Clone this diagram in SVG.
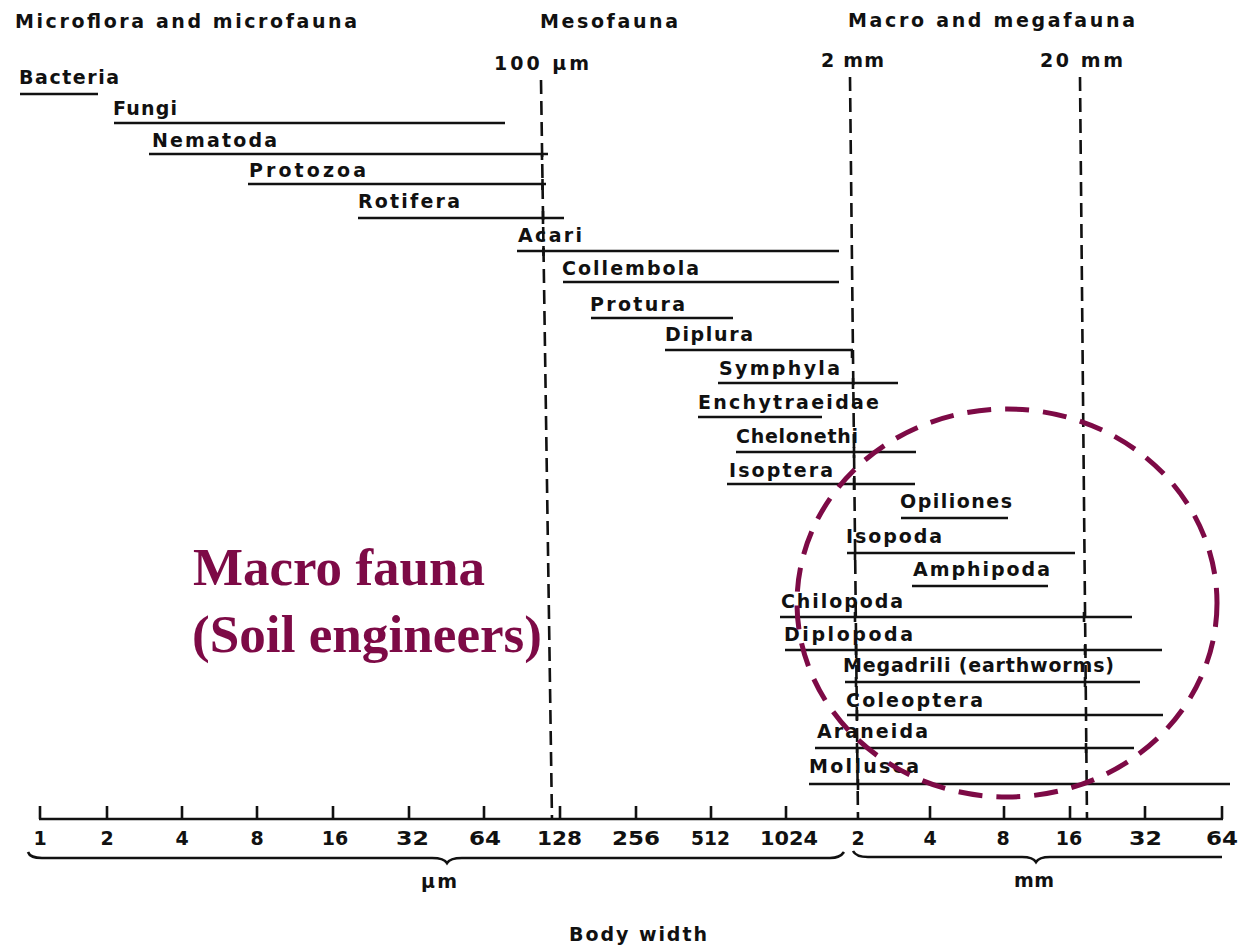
<svg xmlns="http://www.w3.org/2000/svg" width="1248" height="947" viewBox="0 0 1248 947">
<style>
.lbl{font-family:"DejaVu Sans","Liberation Sans",sans-serif;font-weight:bold;font-size:19px;fill:#111}
.hdr{font-family:"DejaVu Sans","Liberation Sans",sans-serif;font-weight:bold;font-size:19px;fill:#111}
.num{font-family:"DejaVu Sans","Liberation Sans",sans-serif;font-weight:bold;font-size:19px;fill:#111}
.bar{stroke:#111;stroke-width:2.6;fill:none;stroke-linecap:butt}
.tk{stroke:#111;stroke-width:2.6;fill:none}
.guide{stroke:#111;stroke-width:2.6;fill:none;stroke-dasharray:14 7}
.red{font-family:"Liberation Serif","Times New Roman",serif;font-weight:bold;font-size:52px;fill:#7D0A46}
.circ{stroke:#7D0A46;stroke-width:5;fill:none;stroke-dasharray:24 14}
</style>
<rect width="1248" height="947" fill="#ffffff"/>

<g id="headers">
<text class="hdr" x="15" y="28" textLength="342" lengthAdjust="spacing">Microflora and microfauna</text>
<text class="hdr" x="540" y="28" textLength="138" lengthAdjust="spacing">Mesofauna</text>
<text class="hdr" x="848" y="27" textLength="287" lengthAdjust="spacing">Macro and megafauna</text>
<text class="hdr" x="494" y="70" textLength="95" lengthAdjust="spacing">100 μm</text>
<text class="hdr" x="821" y="67" textLength="63" lengthAdjust="spacing">2 mm</text>
<text class="hdr" x="1040" y="67" textLength="83" lengthAdjust="spacing">20 mm</text>
</g>

<g id="connectors">
<line class="guide" x1="541" y1="80" x2="552" y2="820"/>
<line class="guide" x1="850" y1="77" x2="858" y2="820"/>
<line class="guide" x1="1080" y1="77" x2="1087" y2="820"/>
<path class="tk" d="M542 154 V160 M542.5 179 V190 M543 211 V224 M543.5 246 V256 M852 350 V358 M853 378 V389 M854 447 V458 M854 478 V490 M855 553 V560 M855 612 V622 M1084 612 V622 M856 645 V655 M1085 645 V655 M856 677 V687 M1085 677 V687 M857 710 V720 M857 743 V753 M1086 743 V753 M858 779 V790"/>
</g>

<g id="bacteria"><text class="lbl" x="19" y="84" textLength="100" lengthAdjust="spacing">Bacteria</text><line class="bar" x1="20" y1="94" x2="98" y2="94"/></g>
<g id="fungi"><text class="lbl" x="113" y="115" textLength="64" lengthAdjust="spacing">Fungi</text><line class="bar" x1="114" y1="123" x2="505" y2="123"/></g>
<g id="nematoda"><text class="lbl" x="152" y="147" textLength="125" lengthAdjust="spacing">Nematoda</text><line class="bar" x1="149" y1="154" x2="548" y2="154"/></g>
<g id="protozoa"><text class="lbl" x="249" y="177" textLength="117" lengthAdjust="spacing">Protozoa</text><line class="bar" x1="248" y1="184" x2="546" y2="184"/></g>
<g id="rotifera"><text class="lbl" x="358" y="208" textLength="102" lengthAdjust="spacing">Rotifera</text><line class="bar" x1="358" y1="218" x2="564" y2="218"/></g>
<g id="acari"><text class="lbl" x="518" y="242" textLength="64" lengthAdjust="spacing">Acari</text><line class="bar" x1="517" y1="251" x2="839" y2="251"/></g>
<g id="collembola"><text class="lbl" x="562" y="275" textLength="137" lengthAdjust="spacing">Collembola</text><line class="bar" x1="563" y1="282" x2="839" y2="282"/></g>
<g id="protura"><text class="lbl" x="590" y="311" textLength="95" lengthAdjust="spacing">Protura</text><line class="bar" x1="591" y1="318" x2="733" y2="318"/></g>
<g id="diplura"><text class="lbl" x="665" y="341" textLength="88" lengthAdjust="spacing">Diplura</text><line class="bar" x1="665" y1="350" x2="853" y2="350"/></g>
<g id="symphyla"><text class="lbl" x="719" y="375" textLength="121" lengthAdjust="spacing">Symphyla</text><line class="bar" x1="718" y1="383" x2="898" y2="383"/></g>
<g id="enchytraeidae"><text class="lbl" x="698" y="409" textLength="181" lengthAdjust="spacing">Enchytraeidae</text><line class="bar" x1="698" y1="417" x2="822" y2="417"/></g>
<g id="chelonethi"><text class="lbl" x="736" y="443" textLength="122" lengthAdjust="spacing">Chelonethi</text><line class="bar" x1="736" y1="452" x2="916" y2="452"/></g>
<g id="isoptera"><text class="lbl" x="729" y="477" textLength="104" lengthAdjust="spacing">Isoptera</text><line class="bar" x1="727" y1="484" x2="915" y2="484"/></g>
<g id="opiliones"><text class="lbl" x="900" y="508" textLength="112" lengthAdjust="spacing">Opiliones</text><line class="bar" x1="901" y1="518" x2="1008" y2="518"/></g>
<g id="isopoda"><text class="lbl" x="846" y="543" textLength="96" lengthAdjust="spacing">Isopoda</text><line class="bar" x1="847" y1="553" x2="1075" y2="553"/></g>
<g id="amphipoda"><text class="lbl" x="913" y="576" textLength="137" lengthAdjust="spacing">Amphipoda</text><line class="bar" x1="912" y1="586" x2="1048" y2="586"/></g>
<g id="chilopoda"><text class="lbl" x="781" y="608" textLength="122" lengthAdjust="spacing">Chilopoda</text><line class="bar" x1="780" y1="617" x2="1132" y2="617"/></g>
<g id="diplopoda"><text class="lbl" x="784" y="641" textLength="129" lengthAdjust="spacing">Diplopoda</text><line class="bar" x1="785" y1="650" x2="1162" y2="650"/></g>
<g id="megadrili"><text class="lbl" x="843" y="672" textLength="271" lengthAdjust="spacing">Megadrili (earthworms)</text><line class="bar" x1="845" y1="682" x2="1140" y2="682"/></g>
<g id="coleoptera"><text class="lbl" x="846" y="707" textLength="137" lengthAdjust="spacing">Coleoptera</text><line class="bar" x1="847" y1="715" x2="1163" y2="715"/></g>
<g id="araneida"><text class="lbl" x="817" y="738" textLength="111" lengthAdjust="spacing">Araneida</text><line class="bar" x1="815" y1="748" x2="1134" y2="748"/></g>
<g id="mollusca"><text class="lbl" x="809" y="773" textLength="110" lengthAdjust="spacing">Mollusca</text><line class="bar" x1="809" y1="784" x2="1230" y2="784"/></g>

<g id="axis">
<line class="bar" x1="39" y1="819" x2="1223" y2="819"/>
<path class="tk" d="M40 806 V819 M107 806 V819 M182 806 V819 M257 806 V819 M333 806 V819 M409 806 V819 M484 806 V819 M560 806 V819 M636 806 V819 M711 806 V819 M786 806 V819 M930 806 V819 M1004 806 V819 M1070 806 V819 M1145 806 V819 M1222 806 V819"/>
<text class="num" x="40" y="845" text-anchor="middle">1</text>
<text class="num" x="107" y="845" text-anchor="middle">2</text>
<text class="num" x="182" y="845" text-anchor="middle">4</text>
<text class="num" x="257" y="845" text-anchor="middle">8</text>
<text class="num" x="335" y="845" text-anchor="middle">16</text>
<text class="num" x="396" y="845" textLength="33" lengthAdjust="spacingAndGlyphs">32</text>
<text class="num" x="469" y="845" textLength="32" lengthAdjust="spacingAndGlyphs">64</text>
<text class="num" x="537" y="845" textLength="45" lengthAdjust="spacingAndGlyphs">128</text>
<text class="num" x="612" y="845" textLength="48" lengthAdjust="spacingAndGlyphs">256</text>
<text class="num" x="691" y="845" textLength="39" lengthAdjust="spacingAndGlyphs">512</text>
<text class="num" x="760" y="845" textLength="58" lengthAdjust="spacingAndGlyphs">1024</text>
<text class="num" x="858" y="845" text-anchor="middle">2</text>
<text class="num" x="930" y="845" text-anchor="middle">4</text>
<text class="num" x="1003" y="845" text-anchor="middle">8</text>
<text class="num" x="1069" y="845" text-anchor="middle">16</text>
<text class="num" x="1129" y="845" textLength="33" lengthAdjust="spacingAndGlyphs">32</text>
<text class="num" x="1206" y="845" textLength="32" lengthAdjust="spacingAndGlyphs">64</text>
<path class="bar" stroke-width="2.2" d="M28 852 Q30 858 42 858 L432 858 Q444 858 447 863 Q450 858 462 858 L830 858 Q840 858 844 852"/>
<path class="bar" stroke-width="2.2" d="M853 851 Q856 857 868 857 L1022 857 Q1033 857 1036 862 Q1039 857 1050 857 L1222 857"/>
<text class="hdr" x="421" y="888" textLength="36" lengthAdjust="spacing">μm</text>
<text class="hdr" x="1014" y="887" textLength="40" lengthAdjust="spacing">mm</text>
<text class="hdr" x="569" y="941" textLength="138" lengthAdjust="spacing">Body width</text>
</g>

<g id="highlight">
<ellipse class="circ" cx="1007" cy="603" rx="210" ry="194"/>
<text class="red" x="193" y="585" textLength="292" lengthAdjust="spacingAndGlyphs">Macro fauna</text>
<text class="red" x="192" y="652" textLength="350" lengthAdjust="spacingAndGlyphs">(Soil engineers)</text>
</g>
</svg>
